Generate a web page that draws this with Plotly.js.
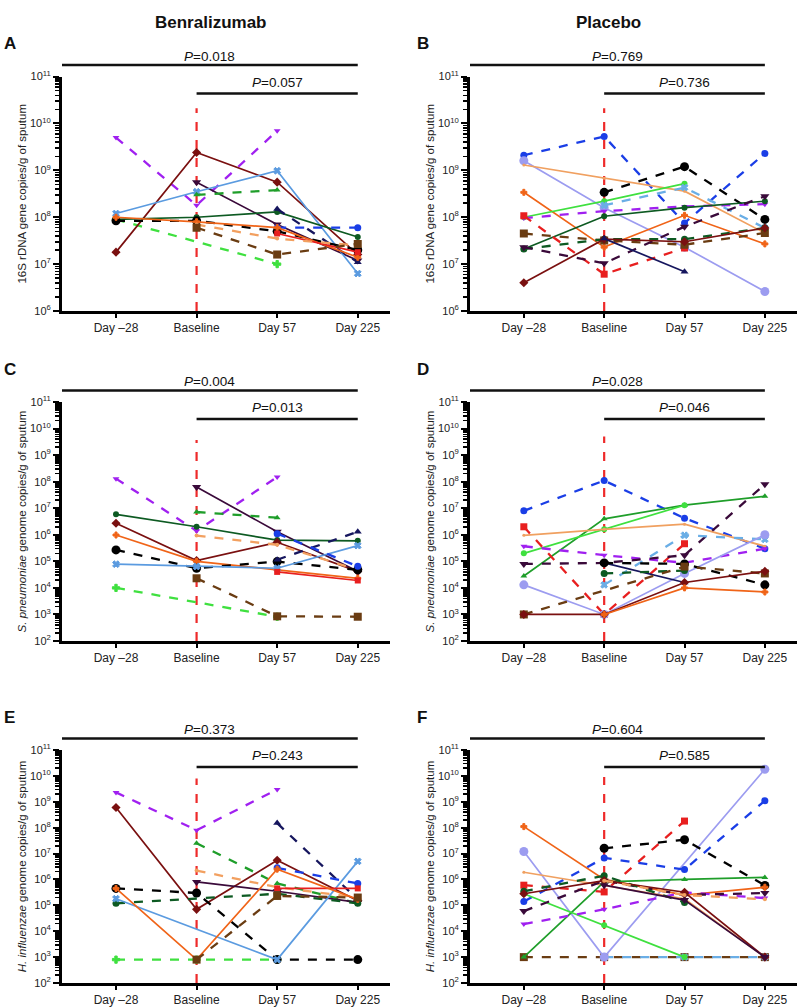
<!DOCTYPE html>
<html>
<head>
<meta charset="utf-8">
<script src="https://cdn.plot.ly/plotly-3.0.1.min.js"></script>
<style>
	body { margin: 0; background: white; }
	#plot { width: 798px; height: 1008px; }
</style>
</head>
<body>
<div id="plot"></div>
<script>
// page size, in pixels
const W = 798;
const H = 1008;

const DAYS = [ 'Day \u201328', 'Baseline', 'Day 57', 'Day 225' ];

// ---- panel A : Benralizumab, 16S rDNA
const A_SERIES = [ 'lime_dash', 'purple_dash', 'maroon', 'darkpurple', 'lightblue', 'green_dash',
                   'darkgreen', 'navy_dash', 'blue_dash', 'black_dash', 'orange', 'red',
                   'lightorange_dash', 'brown_dash' ];
const A_VALUES = [
	[ 9e7,   null,  1e7,   null  ],
	[ 5e9,   1.8e8, 7e9,   null  ],
	[ 1.8e7, 2.4e9, 5.6e8, 1.6e7 ],
	[ null,  5.6e8, 7e7,   1.2e7 ],
	[ 1.2e8, 3.5e8, 9.8e8, 6.3e6 ],
	[ null,  3e8,   3.8e8, null  ],
	[ 9e7,   1e8,   1.3e8, 3.8e7 ],
	[ null,  null,  1.5e8, 1.1e7 ],
	[ null,  null,  6e7,   6e7   ],
	[ 8.4e7, 8.4e7, 5e7,   2e7   ],
	[ 1e8,   8e7,   6e7,   1.4e7 ],
	[ null,  null,  4.5e7, 1.8e7 ],
	[ null,  7e7,   3.5e7, 2.5e7 ],
	[ null,  6e7,   1.6e7, 2.7e7 ]
];

// ---- panel B : Placebo, 16S rDNA
const B_SERIES = [ 'blue_dash', 'lavender', 'sandy', 'orange', 'black_dash', 'lime', 'lightblue_dash',
                   'purple_dash', 'darkgreen', 'red_dash', 'brown_dash', 'darkgreen_dash',
                   'darkpurple_dash', 'maroon', 'navy' ];
const B_VALUES = [
	[ 2.1e9,  5.3e9,  7.5e7, 2.3e9 ],
	[ 1.6e9,  1.6e8,  2.3e7, 2.6e6 ],
	[ 1.3e9,  6.8e8,  3.6e8, 4.6e7 ],
	[ 3.4e8,  2.3e7,  1.1e8, 2.7e7 ],
	[ null,   3.4e8,  1.2e9, 9e7   ],
	[ 1e8,    2.2e8,  5.2e8, null  ],
	[ null,   1.8e8,  4.3e8, 5.9e7 ],
	[ 9.6e7,  1.35e8, 1.7e8, 1.9e8 ],
	[ 2.1e7,  1.05e8, 1.6e8, 2.2e8 ],
	[ 1.07e8, 6.1e6,  2.2e7, null  ],
	[ 4.5e7,  3.2e7,  2.6e7, 4.6e7 ],
	[ 2.1e7,  3.4e7,  3.4e7, 5.9e7 ],
	[ 2.3e7,  1.04e7, 6.3e7, 2.8e8 ],
	[ 4e6,    3.4e7,  3e7,   5.9e7 ],
	[ null,   3.5e7,  6.9e6, null  ]
];

// ---- panel C : Benralizumab, S. pneumoniae
const C_SERIES = [ 'lime_dash', 'purple_dash', 'darkpurple', 'green_dash', 'darkgreen', 'maroon',
                   'orange', 'lightorange_dash', 'black_dash', 'lightblue', 'navy_dash',
                   'blue_dash', 'red', 'brown_dash' ];
const C_VALUES = [
	[ 1e4,   null,   8.2e2,  null  ],
	[ 1.3e8, 1.4e6,  1.5e8,  null  ],
	[ null,  6.3e7,  1.3e6,  4.2e4 ],
	[ null,  7.2e6,  4.4e6,  null  ],
	[ 5.9e6, 2e6,    6.3e5,  5.9e5 ],
	[ 2.7e6, 1.07e5, 5.2e5,  4.2e4 ],
	[ 9.8e5, 1e5,    4.8e4,  2.3e4 ],
	[ null,  9.3e5,  4.2e5,  4.8e4 ],
	[ 2.7e5, 5.5e4,  9.8e4,  4.8e4 ],
	[ 7.8e4, 6.4e4,  5.5e4,  3.9e5 ],
	[ null,  null,   1.15e5, 1.3e6 ],
	[ null,  null,   1.1e6,  6.5e4 ],
	[ null,  null,   4e4,    1.9e4 ],
	[ null,  2.3e4,  8.5e2,  8.2e2 ]
];

// ---- panel D : Placebo, S. pneumoniae
const D_SERIES = [ 'blue_dash', 'green', 'lime', 'sandy', 'red_dash', 'purple_dash',
                   'darkpurple_dash', 'lightblue_dash', 'lavender', 'navy', 'darkgreen_dash',
                   'black_dash', 'brown_dash', 'maroon', 'orange' ];
const D_VALUES = [
	[ 8e6,   1.1e8, 4.2e6, 3e5   ],
	[ 2.8e4, 4e6,   1.3e7, 2.8e7 ],
	[ 2e5,   1.6e6, 1.3e7, null  ],
	[ 9.5e5, 1.6e6, 2.5e6, 3.7e5 ],
	[ 2e6,   1e3,   4.6e5, null  ],
	[ 3.7e5, 1.7e5, 8.8e4, 3e5   ],
	[ 8e4,   8.7e4, 1.7e5, 8e7   ],
	[ null,  1.3e4, 9.6e5, 6.7e5 ],
	[ 1.3e4, 1e3,   3.5e4, 1e6   ],
	[ null,  8.7e4, 1.6e4, null  ],
	[ null,  3.5e4, 4.5e4, null  ],
	[ null,  8.7e4, 8e4,   1.3e4 ],
	[ 1e3,   null,  6.3e4, 3.5e4 ],
	[ 1e3,   1e3,   1.6e4, 4.2e4 ],
	[ null,  1e3,   1e4,   7e3   ]
];

// ---- panel E : Benralizumab, H. influenzae
const E_SERIES = [ 'lime_dash', 'purple_dash', 'maroon', 'navy_dash', 'green_dash', 'lightorange_dash',
                   'darkpurple', 'black_dash', 'darkgreen_dash', 'lightblue', 'blue_dash',
                   'red', 'orange', 'brown_dash' ];
const E_VALUES = [
	[ 8e2,   8e2,   8e2,   null  ],
	[ 2.3e9, 8e7,   3e9,   null  ],
	[ 6e8,   7e4,   5.5e6, 1.5e5 ],
	[ null,  null,  1.5e8, 1.7e5 ],
	[ null,  2.5e7, 7e5,   1.2e5 ],
	[ null,  2.2e6, 5e5,   2e5   ],
	[ null,  8e5,   3.5e5, 1.3e5 ],
	[ 4.5e5, 3e5,   8e2,   8e2   ],
	[ 1.2e5, null,  2.8e5, 1.2e5 ],
	[ 1.8e5, null,  8e2,   5e6   ],
	[ null,  null,  2.8e6, 7e5   ],
	[ null,  null,  4.5e5, 4.5e5 ],
	[ 4.5e5, 8e2,   2.5e6, 1.7e5 ],
	[ null,  8e2,   2.3e5, 2e5   ]
];

// ---- panel F : Placebo, H. influenzae
const F_SERIES = [ 'brown_dash', 'lightblue_dash', 'lavender', 'blue_dash', 'red_dash', 'black_dash',
                   'orange', 'sandy', 'green', 'lime', 'purple_dash', 'darkpurple_dash',
                   'darkgreen_dash', 'maroon', 'darkpurple', 'lightorange_dash' ];
const F_VALUES = [
	[ 1e3,   1e3,   1e3,   1e3    ],
	[ null,  1e3,   1e3,   1e3    ],
	[ 1.2e7, 1e3,   null,  1.8e10 ],
	[ 1.4e5, 6.8e6, 2.4e6, 1.1e9  ],
	[ 6e5,   3.3e5, 1.8e8, null   ],
	[ null,  1.6e7, 3.4e7, 5.9e5  ],
	[ 1.1e8, 1e6,   2.5e5, 5e5    ],
	[ 1.9e6, 6e5,   1.8e5, 1e3    ],
	[ 1e3,   8e5,   1e6,   1.2e6  ],
	[ 2.8e5, 1.7e4, 1e3,   null   ],
	[ 1.9e4, 7e4,   3.2e5, 1.9e5  ],
	[ 6e4,   9e5,   2.5e5, 3e5    ],
	[ 3.5e5, 1.4e6, 1.3e5, null   ],
	[ 2.8e5, 9e5,   3.2e5, 1e3    ],
	[ null,  6e5,   1.6e5, 1e3    ],
	[ null,  9e5,   2.5e5, 1.7e5  ]
];

const P_LONG       = [ '0.018', '0.769', '0.004', '0.028', '0.373', '0.604' ];
const P_SHORT      = [ '0.057', '0.736', '0.013', '0.046', '0.243', '0.585' ];
const BASELINE_TOP = [ 2.1e10, 2.1e10, 3.7e9, 5e9, 8e9, 9e9 ];

const Y_TITLES = [
	'16S rDNA gene copies/g of sputum',
	'<i>S. pneumoniae</i> genome copies/g of sputum',
	'<i>H. influenzae</i> genome copies/g of sputum'
];

// line styles
const STYLES = {
	purple_dash     : { color: '#a020f0', dash: 'dash',  symbol: 'triangle-down', size: 6 },
	darkpurple      : { color: '#3a0a3a', dash: 'solid', symbol: 'triangle-down', size: 8 },
	darkpurple_dash : { color: '#3a0a3a', dash: 'dash',  symbol: 'triangle-down', size: 8 },
	maroon          : { color: '#7a1010', dash: 'solid', symbol: 'diamond',       size: 7 },
	lightblue       : { color: '#5b9be0', dash: 'solid', symbol: 'x',             size: 6 },
	lightblue_dash  : { color: '#6aaee6', dash: 'dash',  symbol: 'x',             size: 6 },
	green_dash      : { color: '#1f9e2a', dash: 'dash',  symbol: 'triangle-up',   size: 6 },
	green           : { color: '#1f9e2a', dash: 'solid', symbol: 'triangle-up',   size: 6 },
	darkgreen       : { color: '#0d5a22', dash: 'solid', symbol: 'circle',        size: 6 },
	darkgreen_dash  : { color: '#0d5a22', dash: 'dash',  symbol: 'circle',        size: 7 },
	navy            : { color: '#16165e', dash: 'solid', symbol: 'triangle-up',   size: 7 },
	navy_dash       : { color: '#16165e', dash: 'dash',  symbol: 'triangle-up',   size: 7 },
	blue_dash       : { color: '#1a3ee6', dash: 'dash',  symbol: 'circle',        size: 7 },
	black_dash      : { color: '#000000', dash: 'dash',  symbol: 'circle',        size: 9 },
	orange          : { color: '#f06418', dash: 'solid', symbol: 'cross',         size: 5 },
	red             : { color: '#e81f1f', dash: 'solid', symbol: 'square',        size: 6 },
	red_dash        : { color: '#e81f1f', dash: 'dash',  symbol: 'square',        size: 7 },
	lightorange_dash: { color: '#f2a060', dash: 'dash',  symbol: 'circle',        size: 4 },
	sandy           : { color: '#f0a060', dash: 'solid', symbol: 'circle',        size: 3 },
	brown_dash      : { color: '#6a3c12', dash: 'dash',  symbol: 'square',        size: 8 },
	lime            : { color: '#3fe03f', dash: 'solid', symbol: 'circle',        size: 6 },
	lime_dash       : { color: '#3fe03f', dash: 'dash',  symbol: 'cross',         size: 6 },
	lavender        : { color: '#9c9cf0', dash: 'solid', symbol: 'circle',        size: 9 }
};

// panel frames in page pixels: [ left, right, top, bottom ], and log range
const PANELS = [
	{ box: [ 62,  390, 76.6, 311 ], lo: 6, hi: 11 },
	{ box: [ 470, 797, 76.6, 311 ], lo: 6, hi: 11 },
	{ box: [ 62,  390, 402,  641 ], lo: 2, hi: 11 },
	{ box: [ 470, 797, 402,  641 ], lo: 2, hi: 11 },
	{ box: [ 62,  390, 750,  983 ], lo: 2, hi: 11 },
	{ box: [ 470, 797, 750,  983 ], lo: 2, hi: 11 }
];
const X_RANGE = [ -0.67, 3.4 ];
const LETTERS = [ 'A', 'B', 'C', 'D', 'E', 'F' ];

function fx( p ) { return p / W; }
function fy( p ) { return 1 - p / H; }

function make_series_traces( series, values, n ) {
	let sfx    = n === 0 ? '' : String( n + 1 );
	let traces = [];
	for ( var i = 0; i < series.length; i++ ) {
		let st    = STYLES[ series[ i ] ];
		let width = st.dash === 'dash' ? 2.3 : 1.7;
		traces.push( {
			x          : DAYS,
			y          : values[ i ],
			mode       : 'lines+markers',
			connectgaps: true,
			line       : { color: st.color, width: width, dash: st.dash },
			marker     : { color: st.color, symbol: st.symbol, size: st.size,
			               line: { color: st.color, width: st.symbol === 'x' || st.symbol === 'cross' ? 1 : 0 } },
			type       : 'scatter',
			xaxis      : 'x' + sfx,
			yaxis      : 'y' + sfx,
			hoverinfo  : 'skip'
		} );
	}
	return traces;
}

function make_baseline_trace( n ) {
	let sfx = n === 0 ? '' : String( n + 1 );
	return {
		x        : [ DAYS[ 1 ], DAYS[ 1 ] ],
		y        : [ Math.pow( 10, PANELS[ n ].lo ), BASELINE_TOP[ n ] ],
		mode     : 'lines',
		line     : { color: '#ee2a2a', width: 2.2, dash: 'dash' },
		type     : 'scatter',
		xaxis    : 'x' + sfx,
		yaxis    : 'y' + sfx,
		hoverinfo: 'skip'
	};
}

function make_yaxis( n ) {
	let p      = PANELS[ n ];
	let vals   = [];
	let text   = [];
	let minors = [];
	for ( var k = p.lo; k <= p.hi; k++ ) {
		vals.push( Math.pow( 10, k ) );
		text.push( '10<sup>' + k + '</sup>' );
		if ( k < p.hi ) {
			for ( var m = 2; m < 10; m++ ) { minors.push( m * Math.pow( 10, k ) ); }
		}
	}
	let sfx = n === 0 ? '' : String( n + 1 );
	return {
		type     : 'log',
		domain   : [ fy( p.box[ 3 ] ), fy( p.box[ 2 ] ) ],
		range    : [ p.lo, p.hi ],
		anchor   : 'x' + sfx,
		tickmode : 'array',
		tickvals : vals,
		ticktext : text,
		ticks    : 'outside',
		ticklen  : 6,
		tickwidth: 2,
		tickcolor: 'black',
		minor    : { tickmode: 'array', tickvals: minors, ticks: 'outside', ticklen: 4,
		             tickwidth: 1.5, tickcolor: 'black', showgrid: false },
		showline : true,
		linewidth: 3,
		linecolor: 'black',
		showgrid : false,
		zeroline : false,
		tickfont : { size: 11, color: '#222' },
		title    : { text: Y_TITLES[ Math.floor( n / 2 ) ], font: { size: 11.5, color: '#222' }, standoff: 1 }
	};
}

function make_xaxis( n ) {
	let p   = PANELS[ n ];
	let sfx = n === 0 ? '' : String( n + 1 );
	return {
		type         : 'category',
		categoryorder: 'array',
		categoryarray: DAYS,
		domain       : [ fx( p.box[ 0 ] ), fx( p.box[ 1 ] ) ],
		range        : X_RANGE,
		anchor       : 'y' + sfx,
		ticks        : 'outside',
		ticklen      : 4,
		tickwidth    : 2,
		tickcolor    : 'black',
		showline     : true,
		linewidth    : 2.5,
		linecolor    : 'black',
		showgrid     : false,
		zeroline     : false,
		tickfont     : { size: 12, color: '#222' }
	};
}

function make_text( xref, x, y, text, size, xanchor ) {
	return { xref: xref, yref: 'paper', x: x, y: fy( y ), text: text, showarrow: false,
	         xanchor: xanchor, yanchor: 'middle', font: { size: size, color: '#111' } };
}

function create_figure() {
	let traces      = [];
	let shapes      = [];
	let annotations = [];
	let series      = [ A_SERIES, B_SERIES, C_SERIES, D_SERIES, E_SERIES, F_SERIES ];
	let values      = [ A_VALUES, B_VALUES, C_VALUES, D_VALUES, E_VALUES, F_VALUES ];

	let layout = {
		width        : W,
		height       : H,
		showlegend   : false,
		margin       : { l: 0, r: 0, t: 0, b: 0 },
		paper_bgcolor: 'white',
		plot_bgcolor : 'white',
		font         : { family: 'Liberation Sans, Arial, sans-serif', color: '#222' }
	};

	for ( var n = 0; n < 6; n++ ) {
		let sfx = n === 0 ? '' : String( n + 1 );
		let p   = PANELS[ n ];
		traces.push( make_baseline_trace( n ) );
		traces.push( ...make_series_traces( series[ n ], values[ n ], n ) );
		layout[ 'xaxis' + sfx ] = make_xaxis( n );
		layout[ 'yaxis' + sfx ] = make_yaxis( n );

		// P-value bars above each panel
		let long_y  = p.box[ 2 ] - 11.5;
		let short_y = p.box[ 2 ] + 17;
		shapes.push( { type: 'line', xref: 'x' + sfx, yref: 'paper', x0: X_RANGE[ 0 ], x1: 3,
		               y0: fy( long_y ), y1: fy( long_y ), line: { color: '#111', width: 2.5 } } );
		shapes.push( { type: 'line', xref: 'x' + sfx, yref: 'paper', x0: 1, x1: 3,
		               y0: fy( short_y ), y1: fy( short_y ), line: { color: '#111', width: 2.5 } } );
		annotations.push( make_text( 'x' + sfx, ( X_RANGE[ 0 ] + 3 ) / 2, long_y - 9,
		                             '<i>P</i>=' + P_LONG[ n ], 13.5, 'center' ) );
		annotations.push( make_text( 'x' + sfx, 2, short_y - 11.5,
		                             '<i>P</i>=' + P_SHORT[ n ], 13.5, 'center' ) );
		annotations.push( make_text( 'paper', fx( n % 2 === 0 ? 2 : 415 ), p.box[ 2 ] - 33,
		                             '<b>' + LETTERS[ n ] + '</b>', 17, 'left' ) );
	}

	annotations.push( make_text( 'paper', fx( 210 ), 22, '<b>Benralizumab</b>', 17, 'center' ) );
	annotations.push( make_text( 'paper', fx( 608 ), 22, '<b>Placebo</b>', 17, 'center' ) );

	layout.shapes      = shapes;
	layout.annotations = annotations;

	Plotly.newPlot( 'plot', traces, layout, { staticPlot: true } );
}

create_figure();
</script>
</body>
</html>
